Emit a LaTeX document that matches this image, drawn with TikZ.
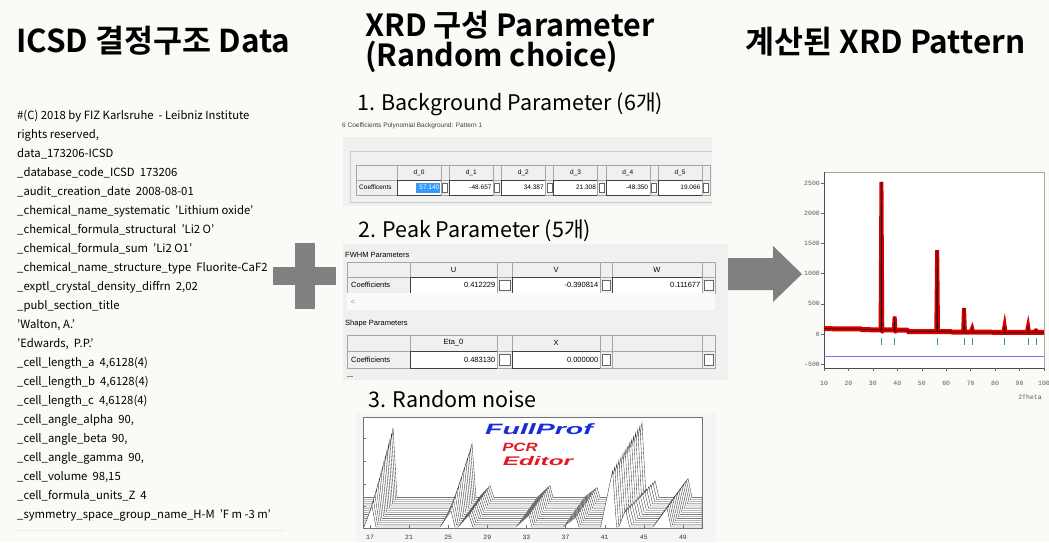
\documentclass[tikz,border=0pt]{standalone}
\usepackage{fontspec}
\setmainfont{Noto Sans CJK KR}[BoldFont={Noto Sans CJK KR Bold}]
\newfontfamily\uifont{Liberation Sans}
\newfontfamily\monofont{Liberation Mono}

\definecolor{pagebg}{RGB}{252,250,247}
\definecolor{blockgray}{RGB}{128,128,128}
\definecolor{winbg}{RGB}{240,240,240}
\definecolor{gridline}{RGB}{165,165,165}
\definecolor{selblue}{RGB}{51,153,255}
\definecolor{fpblue}{RGB}{25,45,215}
\definecolor{fpred}{RGB}{225,25,35}
\definecolor{obsred}{RGB}{215,0,0}
\definecolor{diffblue}{RGB}{115,115,255}
\definecolor{braggteal}{RGB}{50,150,140}

\begin{document}
\begin{tikzpicture}[x=1pt, y=-1pt,
    title/.style={anchor=base west, inner sep=0pt, font=\bfseries\fontsize{31.5}{32}\selectfont},
    subtitle/.style={anchor=base west, inner sep=0pt, font=\fontsize{21.5}{24}\selectfont},
    cifline/.style={anchor=west, inner sep=0pt, font=\fontsize{11.3}{14}\selectfont},
    uitext/.style={inner sep=0pt, font=\uifont\fontsize{7.5}{9}\selectfont},
    hdrcell/.style={draw=gridline, fill=winbg, line width=0.6pt},
    valcell/.style={draw=black!75, fill=white, line width=0.6pt},
    chkbox/.style={draw=black!60, fill=white, line width=0.5pt},
    ticklabel/.style={inner sep=0pt, font=\monofont\fontsize{6.5}{8}\selectfont, text=black!65},
    wavecurve/.style={fill=white, draw=black!80, line width=0.35pt},
    logo/.style={inner sep=0pt, font=\uifont\bfseries\itshape\fontsize{15}{16}\selectfont}
]
    % Page
    \fill[pagebg] (0,0) rectangle (1049,542);
    \useasboundingbox (0,0) rectangle (1049,542);

    % Titles
    \node[title] (cif-title) at (16,52) {ICSD 결정구조 Data};
    \node[title, font=\bfseries\fontsize{30.5}{31}\selectfont] (par-title) at (365,36) {XRD 구성 Parameter};
    \node[title, font=\bfseries\fontsize{30.5}{31}\selectfont] (par-choice) at (365,66) {(Random choice)};
    \node[title] (xrd-title) at (745,53) {계산된 XRD Pattern};

    % CIF listing
    \foreach \line [count=\i from 0] in {
        {\#(C) 2018 by FIZ Karlsruhe \ - Leibniz Institute},
        {rights reserved,},
        {data\_173206-ICSD},
        {\_database\_code\_ICSD \ 173206},
        {\_audit\_creation\_date \ 2008-08-01},
        {\_chemical\_name\_systematic \ 'Lithium oxide'},
        {\_chemical\_formula\_structural \ 'Li2 O'},
        {\_chemical\_formula\_sum \ 'Li2 O1'},
        {\_chemical\_name\_structure\_type \ Fluorite-CaF2},
        {\_exptl\_crystal\_density\_diffrn \ 2,02},
        {\_publ\_section\_title},
        {'Walton, A.'},
        {'Edwards, \ P.P.'},
        {\_cell\_length\_a \ 4,6128(4)},
        {\_cell\_length\_b \ 4,6128(4)},
        {\_cell\_length\_c \ 4,6128(4)},
        {\_cell\_angle\_alpha \ 90,},
        {\_cell\_angle\_beta \ 90,},
        {\_cell\_angle\_gamma \ 90,},
        {\_cell\_volume \ 98,15},
        {\_cell\_formula\_units\_Z \ 4},
        {\_symmetry\_space\_group\_name\_H-M \ 'F m -3 m'}}
        \node[cifline] (cif-\i) at (17,{116+19*\i}) {\line};
    \draw[black!8, line width=1pt] (15,530) -- (285,530);

    % Plus and arrow
    \fill[blockgray] (295,243) rectangle (315,309);
    \fill[blockgray] (273,267) rectangle (336,285);
    \fill[blockgray] (727,258) -- (773,258) -- (773,246) -- (802,274)
        -- (773,302) -- (773,290) -- (727,290) -- cycle;

    % 1. Background parameter
    \node[subtitle] (bg-label) at (357,110) {1. Background Parameter (6개)};
    \fill[winbg] (343,137) rectangle (712,206);
    \node[uitext, anchor=west, font=\uifont\fontsize{6.5}{8}\selectfont, text=black!75] (bg-caption) at (342,126) {6 Coefficients Polynomial Background: Pattern 1};
    \draw[black!20] (712,151) -- (350,151) -- (350,202) -- (712,202);
    \draw[hdrcell] (356,165) rectangle (397,180);
    \draw[hdrcell] (356,180) rectangle (397,195);
    \node[uitext, anchor=west, font=\uifont\fontsize{6.5}{8}\selectfont] (bg-coef) at (359,187.5) {Coefficents};
    \foreach \v [count=\k from 0] in {57.140,-48.657,34.387,21.308,-48.350,19.066}{
        \pgfmathsetmacro\xa{397+52.2*\k}
        \draw[hdrcell] (\xa,165) rectangle ++(44,15);
        \draw[hdrcell] ({\xa+44},165) rectangle ++(8.2,15);
        \node[uitext, font=\uifont\fontsize{6.5}{8}\selectfont] (bg-d\k) at ({\xa+22},172.5) {d\_\k};
        \draw[valcell] (\xa,180) rectangle ++(44,15);
        \draw[hdrcell] ({\xa+44},180) rectangle ++(8.2,15);
        \draw[chkbox] ({\xa+45.5},183) rectangle ++(5,9);
        \ifnum\k=0
            \fill[selblue] ({\xa+19},182.5) rectangle ({\xa+43},192.5);
            \def\vcol{white}
        \else
            \def\vcol{black}
        \fi
        \node[uitext, anchor=east, text=\vcol, font=\uifont\fontsize{6.5}{8}\selectfont] (bg-v\k) at ({\xa+42.5},187.5) {\v};
    }

    % 2. Peak parameter
    \node[subtitle] (peak-label) at (358,237) {2. Peak Parameter (5개)};
    \fill[winbg] (343,244) rectangle (728,380);
    \node[uitext, anchor=west] (fwhm-label) at (345,255) {FWHM Parameters};
    \draw[hdrcell] (347,262) rectangle (410,277);
    \draw[hdrcell] (347,277) rectangle (410,293);
    \node[uitext, anchor=west] (fwhm-coef) at (351,285) {Coefficients};
    \foreach \h/\v/\xa/\xb/\xc [count=\k] in {U/0.412229/410/497/512, V/-0.390814/512/600/612, W/0.111677/612/702/715}{
        \draw[hdrcell] (\xa,262) rectangle (\xb,277);
        \draw[hdrcell] (\xb,262) rectangle (\xc,277);
        \node[uitext] (fwhm-h\k) at ({(\xa+\xb)/2},269.5) {\h};
        \draw[valcell] (\xa,277) rectangle (\xb,293);
        \draw[hdrcell] (\xb,277) rectangle (\xc,293);
        \draw[chkbox] ({\xb+2},280) rectangle ({\xc-2},290);
        \node[uitext, anchor=east] (fwhm-v\k) at ({\xb-1.5},285) {\v};
    }
    \fill[black!2] (347,293) rectangle (715,310);
    \node[uitext, text=black!45] (fwhm-scroll) at (353,302) {<};
    \node[uitext, anchor=west] (shape-label) at (345,324) {Shape Parameters};
    \draw[hdrcell] (347,335) rectangle (410,351);
    \draw[hdrcell] (347,351) rectangle (410,368);
    \node[uitext, anchor=west] (shape-coef) at (351,359.5) {Coefficients};
    \foreach \h/\v/\xa/\xb/\xc [count=\k] in {Eta\_0/0.483130/410/497/512, X/0.000000/512/600/612, {}/{}/612/702/715}{
        \draw[hdrcell] (\xa,335) rectangle (\xb,351);
        \draw[hdrcell] (\xb,335) rectangle (\xc,351);
        \node[uitext] (shape-h\k) at ({(\xa+\xb)/2},343) {\h};
        \ifnum\k=3
            \draw[hdrcell] (\xa,351) rectangle (\xb,368);
        \else
            \draw[valcell] (\xa,351) rectangle (\xb,368);
        \fi
        \draw[hdrcell] (\xb,351) rectangle (\xc,368);
        \draw[chkbox] ({\xb+2},354) rectangle ({\xc-2},365);
        \node[uitext, anchor=east] (shape-v\k) at ({\xb-1.5},359.5) {\v};
    }
    \draw[black!45] (347,376) -- (353,376);

    % 3. Random noise
    \node[subtitle] (noise-label) at (368,407) {3. Random noise};
    \fill[black!4] (356,413) rectangle (716,542);
    \fill[white] (363,417) rectangle (702,528);
    \begin{scope}
        \clip (363,417) rectangle (702,528);
        \foreach \j in {14,13,...,0}{
            \pgfmathsetmacro\by{527-2.1*\j}
            \pgfmathsetmacro\s{1.5*(\j-14)}
            \pgfmathsetmacro\g{2.1*(\j-14)}
            \pgfmathsetmacro\sc{0.3+0.7*\j/14}
            \pgfmathsetmacro\hg{75*(0.75+0.25*\j/14)}
            \filldraw[wavecurve] (363,531) -- (363,\by)
                -- ({385+\s},\by) -- ({393+\s},{\by-70*\sc}) -- ({397+\s},\by)
                -- ({461+\s},\by) -- ({472+\s},{\by-54*\sc}) -- ({476+\s},\by)
                -- ({479+\s},\by) -- ({490+\s},{\by-12}) -- ({494+\s},\by)
                -- ({537+\s},\by) -- ({550+\s},{\by-12}) -- ({553+\s},\by)
                -- ({584+\s},\by) -- ({597+\s},{\by-10}) -- ({600+\s},\by)
                -- ({630+\g},\by) -- ({642+\g},{\by-\hg}) -- ({646+\g},\by)
                -- ({648+\g},\by) -- ({655+\g},{\by-17}) -- ({659+\g},\by)
                -- ({674+\s},\by) -- ({688+\s},{\by-19}) -- ({692+\s},\by)
                -- (702,\by) -- (702,531);
        }
    \end{scope}
    \draw[black!55, line width=0.6pt] (363,417) rectangle (702,528);
    \foreach \t in {17,21,...,49}{
        \draw[black!55] ({370+9.78*(\t-17)},528) -- ++(0,-3);
        \node[ticklabel, text=black!80] (noise-x\t) at ({370+9.78*(\t-17)},537) {\t};
    }
    \foreach \yy in {438,461,484,506}
        \draw[black!55] (363,\yy) -- ++(3,0);
    \node[logo, text=fpblue] (fp-name) at (539,429) {\scalebox{1.9}[1]{FullProf}};
    \node[logo, text=fpred, font=\uifont\bfseries\itshape\fontsize{12}{13}\selectfont] (fp-pcr) at (520,447) {\scalebox{1.4}[1]{PCR}};
    \node[logo, text=fpred, font=\uifont\bfseries\itshape\fontsize{12.5}{13}\selectfont] (fp-editor) at (538,461) {\scalebox{1.95}[1]{Editor}};

    % Calculated pattern
    \fill[white] (824,172) rectangle (1044,368);
    \draw[black!35] (824,172) -- (1044,172) -- (1044,368);
    \draw[black!70, line width=0.6pt] (824,172) -- (824,368) -- (1044,368);
    \foreach \c in {-500,0,...,2500}{
        \draw[black!60] (821,{334-0.0604*\c}) -- (824,{334-0.0604*\c});
        \node[ticklabel, anchor=east] (xrd-y\c) at (820,{334-0.0604*\c}) {\c};
    }
    \foreach \t in {10,20,...,100}{
        \draw[black!60] ({799.56+2.444*\t},368) -- ++(0,3);
        \node[ticklabel] (xrd-x\t) at ({799.56+2.444*\t},383) {\t};
    }
    \node[ticklabel] (xrd-axis) at (1030,397) {2Theta};
    \begin{scope}[shift={(799.56,334)}, xscale=2.444, yscale=-0.0604]
        \draw[obsred, line width=5pt] (10,88) -- (25,84) -- (25.6,72) -- (44,64) -- (44.6,40) -- (62,38) -- (62.6,30) -- (100,28);
        \foreach \t/\c in {33.5/2520, 38.9/290, 56.3/1390, 67.3/430, 70.6/95, 83.9/140, 93.5/130, 96.8/60}{
            \draw[obsred, line width=4pt, line cap=round] ({\t-0.35},60) -- (\t,\c) -- ({\t+0.35},40);
            \draw[black, line width=0.5pt] ({\t-0.15},60) -- (\t,\c) -- ({\t+0.15},40);
            \draw[braggteal, line width=0.6pt] (\t,-70) -- (\t,-190);
        }
        \draw[black, line width=0.5pt] (10,88) -- (25,84) -- (25.6,72) -- (44,64) -- (44.6,40) -- (62,38) -- (62.6,30) -- (100,28);
        \draw[diffblue, line width=0.9pt] (10,-364) -- (100,-364);
    \end{scope}
\end{tikzpicture}
\end{document}
